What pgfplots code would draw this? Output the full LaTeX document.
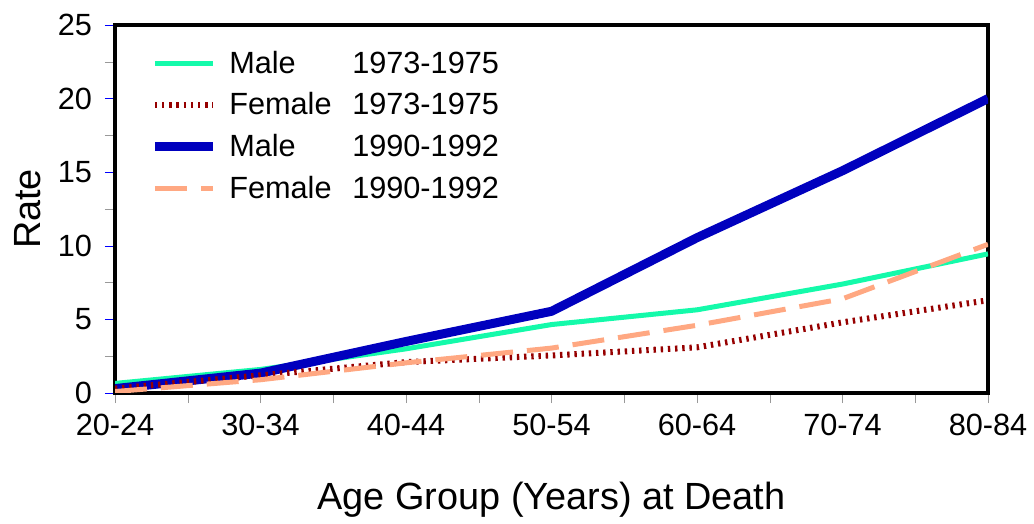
\documentclass[border=0pt]{standalone}
\usepackage{fontspec}
\setmainfont{Liberation Sans}
\usepackage{pgfplots}
\pgfplotsset{compat=1.18}
\definecolor{cgreen}{RGB}{20,250,170}
\definecolor{cred}{RGB}{150,0,0}
\definecolor{cblue}{RGB}{0,0,190}
\definecolor{csalmon}{RGB}{255,168,130}
\newcommand{\tf}{\fontsize{15.4}{18}\selectfont}
\newcommand{\lf}{\fontsize{19}{23}\selectfont}
\begin{document}
\begin{tikzpicture}
\path[use as bounding box] (0,0) rectangle (517bp,262bp);
\begin{axis}[
  at={(57.5bp,65.5bp)}, anchor=south west,
  scale only axis, width=436.5bp, height=184bp,
  xmin=0, xmax=6, ymin=0, ymax=25,
  xtick={0,...,6},
  xticklabels={20-24,30-34,40-44,50-54,60-64,70-74,80-84},
  minor xtick={0.5,1.5,...,5.5},
  ytick={0,5,...,25},
  minor ytick={2.5,7.5,...,22.5},
  tick pos=left, tick align=outside,
  major tick length=5bp, minor tick length=5bp,
  every major x tick/.style={gray!80},
  every minor x tick/.style={gray!80},
  every major y tick/.style={blue},
  every minor y tick/.style={gray!80},
  axis line style={line width=2bp},
  /pgf/number format/assume math mode=true,
  ticklabel style={font=\tf},
  xticklabel style={yshift=-2bp},
  yticklabel style={xshift=-3bp},
  xlabel={Age Group (Years) at Death},
  ylabel={Rate},
  label style={font=\lf},
  xlabel style={at={(axis description cs:0.5,-0.29)}, anchor=center},
  ylabel style={at={(axis description cs:-0.1,0.5)}, anchor=center},
  legend style={draw=none, fill=none, at={(axis description cs:0.04,0.941)}, anchor=north west, font=\tf, row sep=4.2bp, inner sep=0pt},
  legend cell align=left,
  legend image code/.code={\draw[#1] (-3.5bp,0bp) -- (25.5bp,0bp);},
]
\addlegendimage{cgreen, line width=2.5bp}
\addlegendentry{\hspace*{4bp}\makebox[61.5bp][l]{Male}1973-1975}
\addlegendimage{cred, line width=3bp, dash pattern=on 1.2bp off 2.4bp}
\addlegendentry{\hspace*{4bp}\makebox[61.5bp][l]{Female}1973-1975}
\addlegendimage{cblue, line width=4.5bp}
\addlegendentry{\hspace*{4bp}\makebox[61.5bp][l]{Male}1990-1992}
\addlegendimage{csalmon, line width=2.5bp, dash pattern=on 16bp off 7bp}
\addlegendentry{\hspace*{4bp}\makebox[61.5bp][l]{Female}1990-1992}

\addplot[forget plot, cgreen, line width=2.5bp] coordinates {(0,0.65) (1,1.6) (2,3.0) (3,4.65) (4,5.65) (5,7.4) (6,9.45)};
\addplot[forget plot, cblue, line width=4.5bp] coordinates {(0,0.3) (1,1.35) (2,3.5) (3,5.55) (4,10.55) (5,15.1) (6,20.0)};
\addplot[forget plot, cred, line width=3bp, dash pattern=on 1.2bp off 2.4bp] coordinates {(0,0.3) (1,1.2) (2,2.1) (3,2.55) (4,3.1) (5,4.8) (6,6.3)};
\addplot[forget plot, csalmon, line width=2.5bp, dash pattern=on 16bp off 7bp] coordinates {(0,0.1) (1,0.9) (2,2.05) (3,3.05) (4,4.6) (5,6.4) (6,10.1)};
\end{axis}
\end{tikzpicture}
\end{document}
